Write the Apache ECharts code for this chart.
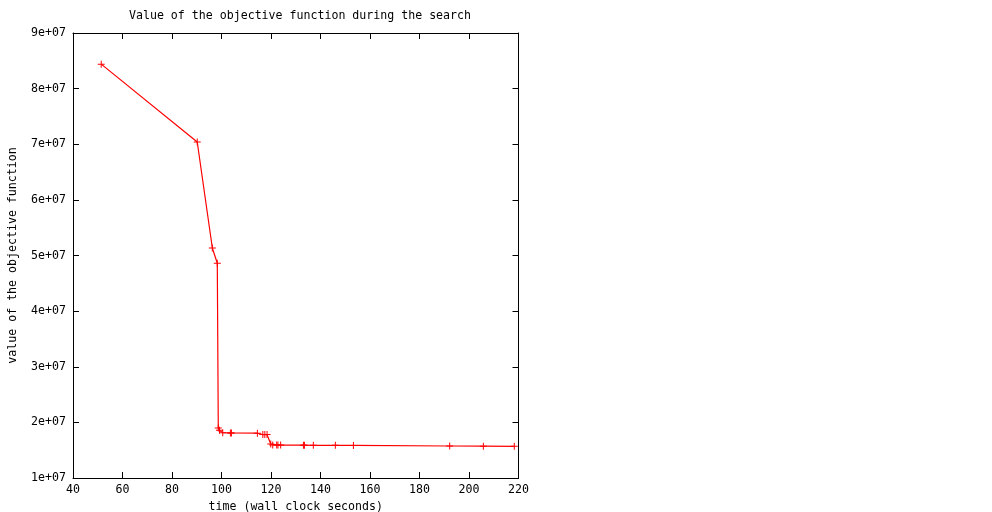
<!DOCTYPE html>
<html>
<head>
<meta charset="utf-8">
<script src="https://cdn.jsdelivr.net/npm/echarts@6/dist/echarts.min.js"></script>
<style>
html,body{margin:0;padding:0;background:#fff;overflow:hidden;}
#c{width:992px;height:512px;}
</style>
</head>
<body>
<div id="c"></div>
<script>
var titleText = 'Value of the objective function during the search';
var xName = 'time (wall clock seconds)';
var yName = 'value of the objective function';
var times = [51.4, 90.2, 96.3, 98.3, 98.7, 99.2, 100.5, 103.6, 104.0, 114.5, 116.7, 117.5, 118.4, 119.9, 120.7, 122.3, 122.8, 123.9, 133.1, 133.5, 137.1, 146.0, 153.3, 192.2, 205.8, 218.3];
var values = [84.4e6, 70.4e6, 51.35e6, 48.6e6, 19.0e6, 18.6e6, 18.15e6, 18.1e6, 18.1e6, 18.05e6, 17.8e6, 17.8e6, 17.8e6, 16.1e6, 15.93e6, 15.93e6, 15.93e6, 15.92e6, 15.9e6, 15.9e6, 15.88e6, 15.87e6, 15.86e6, 15.75e6, 15.72e6, 15.7e6];
var xMin = 40, xMax = 220, xStep = 20;
var yMin = 1e7, yMax = 9e7, yStep = 1e7;

var font = 'DejaVu Sans Mono';
var fs = 11.6;
var chart = echarts.init(document.getElementById('c'), null, {renderer: 'canvas'});
var pts = times.map(function (t, i) { return [t, values[i]]; });
var plus = 'path://M3,0H4V3H7V4H4V7H3V4H0V3H3Z';
var axisCommon = {
  axisLine: {show: true, lineStyle: {color: '#000', width: 1}},
  axisTick: {show: true, inside: true, length: 6, lineStyle: {color: '#000', width: 1}},
  splitLine: {show: false}
};
chart.setOption({
  animation: false,
  backgroundColor: '#fff',
  title: {text: titleText, left: 295, top: 5, textAlign: 'center',
    textStyle: {fontFamily: font, fontSize: fs, fontWeight: 'normal', color: '#000'}},
  grid: {left: 73, right: 473.5, top: 33, bottom: 34, containLabel: false, outerBoundsMode: 'none'},
  xAxis: [
    Object.assign({type: 'value', position: 'bottom', min: xMin, max: xMax, interval: xStep,
      name: xName, nameLocation: 'middle', nameGap: 21,
      nameTextStyle: {fontFamily: font, fontSize: fs, color: '#000'},
      axisLabel: {fontFamily: font, fontSize: fs, color: '#000', margin: 6}}, axisCommon),
    Object.assign({type: 'value', position: 'top', min: xMin, max: xMax, interval: xStep,
      axisLabel: {show: false}}, axisCommon)
  ],
  yAxis: [
    Object.assign({type: 'value', position: 'left', min: yMin, max: yMax, interval: yStep,
      name: yName, nameLocation: 'middle', nameGap: 54, nameRotate: 90,
      nameTextStyle: {fontFamily: font, fontSize: fs, color: '#000'},
      axisLabel: {fontFamily: font, fontSize: fs, color: '#000', margin: 7,
        formatter: function (v) { return Math.round(v / 1e7) + 'e+07'; }}}, axisCommon),
    Object.assign({type: 'value', position: 'right', min: yMin, max: yMax, interval: yStep,
      axisLabel: {show: false}}, axisCommon)
  ],
  series: [{
    type: 'line',
    xAxisIndex: 0, yAxisIndex: 0,
    data: pts,
    symbol: plus,
    symbolSize: 7,
    showAllSymbol: true,
    lineStyle: {color: '#ff0000', width: 1.2},
    itemStyle: {color: '#ff0000', borderWidth: 0},
    emphasis: {disabled: true}
  }]
});
</script>
</body>
</html>
